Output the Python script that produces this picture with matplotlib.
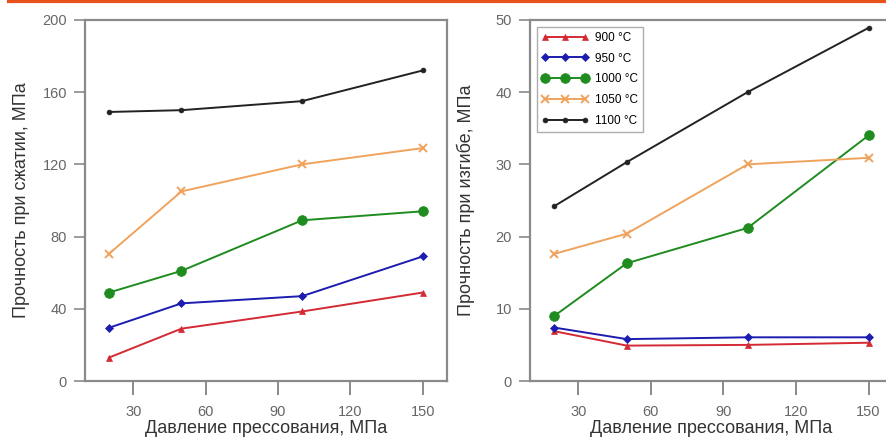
import matplotlib
matplotlib.use('Agg')
import matplotlib.pyplot as plt
from matplotlib.lines import Line2D

plt.rcParams['font.family'] = ['Liberation Sans', 'DejaVu Sans']

# pressing pressure, MPa
pressure = [20, 50, 100, 150]
temps = ['900 °C', '950 °C', '1000 °C', '1050 °C', '1100 °C']

# compressive strength, MPa
comp_900 = [13, 29, 38.5, 49]
comp_950 = [29.5, 43, 47, 69]
comp_1000 = [49, 61, 89, 94]
comp_1050 = [70.5, 105, 120, 129]
comp_1100 = [149, 150, 155, 172]

# bending strength, MPa
bend_900 = [6.9, 4.9, 5.0, 5.3]
bend_950 = [7.4, 5.8, 6.05, 6.05]
bend_1000 = [9.0, 16.3, 21.2, 34.0]
bend_1050 = [17.6, 20.4, 30.0, 30.9]
bend_1100 = [24.2, 30.3, 40.0, 48.9]

colors = ['#d42a34', '#1c1cb0', '#1e8c1e', '#efa35c', '#222222']
markers = ['^', 'D', 'o', 'x', 'o']
msizes = [5, 4.5, 7, 6, 3.5]

comp = [comp_900, comp_950, comp_1000, comp_1050, comp_1100]
bend = [bend_900, bend_950, bend_1000, bend_1050, bend_1100]

fig = plt.figure(figsize=(8.87, 4.42), dpi=100)
# orange rule across the top
fig.add_artist(Line2D([0.01, 1.0], [0.998, 0.998], color='#e8521a', lw=3))

ax1 = fig.add_axes([0.0958, 0.138, 0.408, 0.817])
ax2 = fig.add_axes([0.5975, 0.138, 0.409, 0.817])

for ax, data in [(ax1, comp), (ax2, bend)]:
    for vals, c, m, ms, lab in zip(data, colors, markers, msizes, temps):
        ax.plot(pressure, vals, color=c, marker=m, ms=ms, lw=1.4,
                mew=1.4 if m == 'x' else 0.5, label=lab)
    ax.set_xlim(10, 160)
    ax.set_xticks([30, 60, 90, 120, 150])
    ax.set_xlabel('Давление прессования, МПа', fontsize=13, labelpad=1,
                  color='#333333')
    for s in ax.spines.values():
        s.set_color('#8a8a8a')
        s.set_linewidth(1.6)
    ax.tick_params(axis='x', direction='out', length=10, width=1.4, color='#8a8a8a',
                   labelsize=10.5, labelcolor='#666666', pad=7)
    ax.tick_params(axis='y', direction='out', length=8, width=1.2, color='#8a8a8a',
                   labelsize=10.5, labelcolor='#666666', pad=5)

ax1.set_ylim(0, 200)
ax1.set_yticks([0, 40, 80, 120, 160, 200])
ax1.set_ylabel('Прочность при сжатии, МПа', fontsize=13, labelpad=9,
               color='#333333')

ax2.set_ylim(0, 50)
ax2.set_yticks([0, 10, 20, 30, 40, 50])
ax2.set_ylabel('Прочность при изгибе, МПа', fontsize=13, labelpad=15,
               color='#333333')

leg = ax2.legend(loc='upper left', numpoints=3, fontsize=8.5, frameon=True,
                 fancybox=False, edgecolor='#999999', handlelength=4,
                 borderaxespad=0.6, labelspacing=0.75, handletextpad=0.5)
leg.get_frame().set_linewidth(1.0)

fig.savefig('out.png', dpi=100)
